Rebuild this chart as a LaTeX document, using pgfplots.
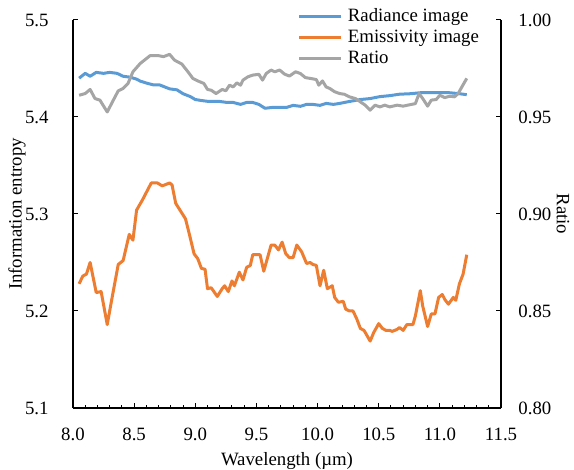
\documentclass[border=0pt]{standalone}
\usepackage{fontspec}
\setmainfont{Liberation Serif}
\usepackage{pgfplots}
\pgfplotsset{compat=1.18}
\definecolor{cblue}{HTML}{5B9BD5}
\definecolor{corange}{HTML}{ED7D31}
\definecolor{cgrey}{HTML}{A5A5A5}
\begin{document}
\fontsize{18.8}{22}\selectfont
\begin{tikzpicture}
\pgfplotsset{
  common/.style={
    scale only axis, width=428pt, height=388pt,
    xmin=8, xmax=11.5,
    tick align=inside,
    major tick length=5pt, minor tick length=3pt,
    axis line style={line width=1.2pt, black},
    every tick/.style={line width=1pt, black},
    /pgf/number format/assume math mode=true,
    legend image code/.code={\draw[#1] (0pt,0pt) -- (42pt,0pt);},
  }
}
\begin{axis}[common,
  axis x line*=bottom, axis y line*=left,
  ymin=5.1, ymax=5.5,
  ytick={5.1,5.2,5.3,5.4,5.5},
  yticklabel style={/pgf/number format/.cd, fixed, fixed zerofill, precision=1, /tikz/.cd, xshift=-18pt},
  xtick={8,8.5,9,9.5,10,10.5,11,11.5},
  minor x tick num=4,
  xticklabel style={/pgf/number format/.cd, fixed, fixed zerofill, precision=1, /tikz/.cd, yshift=-14pt},
  xlabel={Wavelength (µm)},
  ylabel={Information entropy},
  xlabel style={at={(axis description cs:0.5,-0.137)}, anchor=center},
  ylabel style={at={(axis description cs:-0.131,0.5)}, anchor=center, rotate=0},
]
\addplot[cblue, line width=3pt, line join=round] coordinates {
(8.05,5.440)(8.10,5.445)(8.14,5.442)(8.19,5.446)(8.25,5.445)(8.30,5.446)(8.36,5.445)(8.41,5.442)
(8.47,5.441)(8.52,5.439)(8.55,5.437)(8.60,5.435)(8.66,5.433)(8.71,5.433)(8.79,5.429)(8.85,5.428)
(8.90,5.424)(8.96,5.421)(9.00,5.418)(9.05,5.417)(9.11,5.416)(9.15,5.416)(9.20,5.416)(9.26,5.415)
(9.31,5.415)(9.37,5.413)(9.42,5.415)(9.47,5.415)(9.52,5.413)(9.57,5.409)(9.64,5.410)(9.69,5.410)
(9.75,5.410)(9.80,5.412)(9.86,5.411)(9.91,5.413)(9.96,5.413)(10.02,5.412)(10.07,5.414)(10.13,5.413)
(10.18,5.414)(10.26,5.416)(10.35,5.418)(10.43,5.419)(10.51,5.421)(10.59,5.422)(10.67,5.4235)(10.76,5.424)
(10.84,5.425)(10.92,5.425)(11.00,5.425)(11.08,5.425)(11.16,5.424)(11.22,5.423)
};
\addplot[corange, line width=3pt, line join=round] coordinates {
(8.05,5.228)(8.08,5.236)(8.11,5.238)(8.14,5.250)(8.19,5.219)(8.23,5.220)(8.28,5.186)(8.32,5.214)
(8.37,5.248)(8.41,5.252)(8.46,5.279)(8.49,5.273)(8.52,5.304)(8.57,5.315)(8.64,5.332)(8.69,5.332)
(8.73,5.329)(8.79,5.332)(8.81,5.330)(8.84,5.311)(8.87,5.305)(8.92,5.295)(8.95,5.280)(8.99,5.259)
(9.02,5.254)(9.05,5.244)(9.08,5.243)(9.10,5.223)(9.13,5.224)(9.18,5.215)(9.22,5.223)(9.24,5.226)
(9.27,5.220)(9.30,5.231)(9.32,5.226)(9.36,5.240)(9.39,5.232)(9.42,5.245)(9.45,5.247)(9.47,5.258)
(9.53,5.258)(9.56,5.241)(9.62,5.268)(9.65,5.268)(9.68,5.263)(9.71,5.271)(9.74,5.259)(9.77,5.255)
(9.80,5.255)(9.83,5.268)(9.87,5.261)(9.91,5.249)(9.94,5.250)(9.96,5.248)(9.99,5.247)(10.02,5.226)
(10.05,5.242)(10.08,5.223)(10.12,5.226)(10.14,5.214)(10.17,5.209)(10.21,5.210)(10.23,5.202)(10.26,5.200)
(10.29,5.200)(10.32,5.192)(10.35,5.182)(10.38,5.180)(10.43,5.169)(10.46,5.178)(10.50,5.187)(10.53,5.182)
(10.56,5.180)(10.59,5.180)(10.61,5.179)(10.65,5.181)(10.67,5.183)(10.70,5.180)(10.73,5.186)(10.78,5.186)
(10.80,5.195)(10.84,5.221)(10.86,5.205)(10.90,5.184)(10.93,5.197)(10.96,5.197)(10.99,5.214)(11.02,5.217)
(11.04,5.212)(11.07,5.207)(11.11,5.214)(11.13,5.211)(11.16,5.228)(11.19,5.238)(11.22,5.258)
};
\end{axis}
\begin{axis}[common,
  axis x line=none, axis y line*=right,
  ymin=0.80, ymax=1.00,
  ytick={0.80,0.85,0.90,0.95,1.00},
  yticklabel style={/pgf/number format/.cd, fixed, fixed zerofill, precision=2, /tikz/.cd, xshift=11pt},
  ylabel={Ratio},
  ylabel style={at={(axis description cs:1.145,0.5)}, anchor=center, rotate=180},
  legend style={at={(axis description cs:0.525,1.034)}, anchor=north west, draw=none, fill=none,
    inner sep=0pt, row sep=3pt,
    nodes={inner sep=0pt, text height=14pt, text depth=4pt, anchor=west},
    /tikz/every odd column/.append style={column sep=5pt}},
  legend cell align=left,
]
\addlegendimage{cblue, line width=3pt}
\addlegendentry{Radiance image}
\addlegendimage{corange, line width=3pt}
\addlegendentry{Emissivity image}
\addplot[cgrey, line width=3pt, line join=round] coordinates {
(8.05,0.9612)(8.10,0.9621)(8.14,0.9642)(8.18,0.9595)(8.22,0.9587)(8.28,0.9526)(8.33,0.9587)(8.37,0.9635)
(8.41,0.9647)(8.45,0.9673)(8.49,0.9733)(8.55,0.9776)(8.63,0.9816)(8.70,0.9816)(8.74,0.9811)(8.79,0.9823)
(8.83,0.9793)(8.89,0.9773)(8.94,0.9733)(8.98,0.9699)(9.02,0.9686)(9.07,0.9673)(9.10,0.9642)(9.13,0.9638)
(9.17,0.9621)(9.22,0.9642)(9.25,0.9635)(9.28,0.9664)(9.31,0.9655)(9.34,0.9676)(9.37,0.9664)(9.39,0.9690)
(9.43,0.9707)(9.47,0.9716)(9.52,0.9720)(9.55,0.9690)(9.58,0.9724)(9.62,0.9742)(9.65,0.9733)(9.69,0.9742)
(9.73,0.9721)(9.77,0.9711)(9.82,0.9733)(9.86,0.9724)(9.90,0.9703)(9.94,0.9699)(9.99,0.9693)(10.01,0.9664)
(10.04,0.9686)(10.07,0.9655)(10.10,0.9647)(10.14,0.9630)(10.18,0.9621)(10.22,0.9617)(10.26,0.9604)(10.31,0.9595)
(10.35,0.9578)(10.39,0.9561)(10.43,0.9535)(10.47,0.9561)(10.51,0.9552)(10.55,0.9561)(10.59,0.9552)(10.65,0.9561)
(10.70,0.9556)(10.76,0.9564)(10.80,0.9569)(10.83,0.9621)(10.86,0.9595)(10.90,0.9556)(10.93,0.9587)(10.97,0.9590)
(11.00,0.9612)(11.04,0.9600)(11.08,0.9607)(11.12,0.9604)(11.15,0.9621)(11.18,0.9655)(11.22,0.9699)
};
\addlegendentry{Ratio}
\end{axis}
\pgfresetboundingbox
\path[use as bounding box] (-73pt,-62pt) rectangle (501pt,408pt);
\end{tikzpicture}
\end{document}
